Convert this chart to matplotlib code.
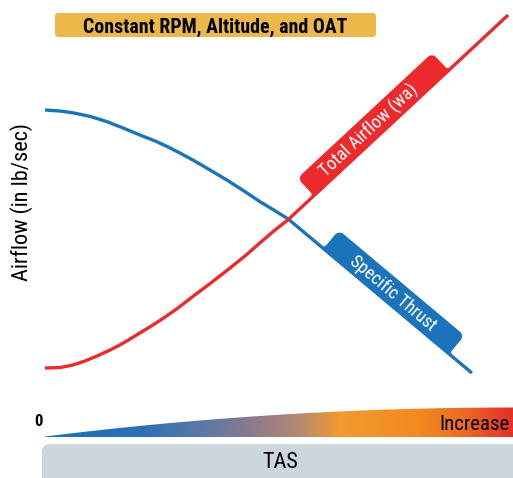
import numpy as np
import matplotlib
matplotlib.use("Agg")
import matplotlib.pyplot as plt
from matplotlib import font_manager
from matplotlib.font_manager import FontProperties
from matplotlib.patches import FancyBboxPatch, Polygon
from matplotlib.colors import LinearSegmentedColormap
from matplotlib.transforms import Affine2D, IdentityTransform

# data (TAS 0-100 across the plot, airflow in arbitrary units)
tas_total = [0, 3.2, 6.0, 8.6, 11.2, 14.0, 16.1, 18.3, 20.4, 23.0, 25.4, 28.6, 31.8,
             35.5, 39.8, 43.0, 46.2, 49.2, 52.3, 99.6]
total_airflow = [8.0, 8.1, 8.75, 9.75, 11.0, 12.5, 13.75, 15.25, 16.75, 18.6, 20.4, 23.0,
                 25.9, 29.1, 33.0, 36.0, 39.25, 42.25, 45.1, 96.25]
tas_thrust = [0, 3.2, 6.0, 9.7, 13.3, 16.8, 20.4, 23.7, 26.5, 29.0, 31.8, 35.5, 39.1,
              42.8, 46.2, 49.2, 52.3, 91.8]
specific_thrust = [72.5, 72.25, 71.8, 70.9, 69.6, 68.0, 66.25, 64.75, 63.25, 61.75, 60.0,
                   57.5, 55.0, 52.25, 49.6, 47.5, 45.25, 6.75]

title = "Constant RPM, Altitude, and OAT"
ylabel = "Airflow (in lb/sec)"
xlabel = "TAS"

RED = "#ec2a2c"
BLUE = "#1b74bb"


# look for a condensed sans font, fall back to DejaVu Sans
def find_font(bold):
    pref = ["roboto", "liberation", "open", "noto", "dejavu", "lato", "inter"]
    best = None
    for f in font_manager.fontManager.ttflist:
        fn = f.fname.lower()
        cond = ("condensed" in fn or "narrow" in fn or "condensed" in str(f.stretch)
                or "Condensed" in f.name or "Narrow" in f.name)
        if not cond or "semi" in fn or "extra" in fn or "ultra" in fn:
            continue
        if "italic" in fn or "oblique" in fn or "serif" in fn or "mono" in fn:
            continue
        if f.style != "normal":
            continue
        w = f.weight if isinstance(f.weight, (int, float)) else (700 if "bold" in str(f.weight) else 400)
        if abs(w - (700 if bold else 400)) > 100:
            continue
        rank = next((i for i, p in enumerate(pref) if p in fn), 99)
        if best is None or rank < best[0]:
            best = (rank, f.fname)
    if best is None:
        return FontProperties(family="DejaVu Sans", weight="bold" if bold else "normal")
    return FontProperties(fname=best[1])


REG = find_font(False)
BOLD = find_font(True)

fig = plt.figure(figsize=(5.13, 4.78), dpi=100)

# background axes in pixel coordinates for the decorations
bg = fig.add_axes([0, 0, 1, 1])
bg.axis("off")

ax = fig.add_axes([45 / 513, 78 / 478, 465 / 513, 400 / 478])
ax.set_xlim(0, 100)
ax.set_ylim(0, 100)
ax.axis("off")

ax.plot(tas_total, total_airflow, color=RED, lw=2.4, solid_capstyle="butt",
        solid_joinstyle="round", zorder=3)
ax.plot(tas_thrust, specific_thrust, color=BLUE, lw=2.4, solid_capstyle="butt",
        solid_joinstyle="round", zorder=2)


def arc(cx, cy, r, a0, a1):
    t = np.radians(np.linspace(a0, a1, 12))
    return np.column_stack([cx + r * np.cos(t), cy + r * np.sin(t)])


def ribbon(xs, ys, u0, u1, w, ut, text, color):
    # tab sitting on the last straight segment of a line, in pixel units
    p0 = ax.transData.transform((xs[-2], ys[-2]))
    p1 = ax.transData.transform((xs[-1], ys[-1]))
    ang = np.degrees(np.arctan2(p1[1] - p0[1], p1[0] - p0[0]))
    tr = Affine2D().rotate_deg(ang).translate(p0[0], p0[1])
    r, R = 5, 6
    pts = np.vstack([
        arc(u0 - r, r, r, -90, 0),
        arc(u0 + R, w - R, R, 180, 90),
        arc(u1 - R, w - R, R, 90, 0),
        arc(u1 + r, r, r, 180, 270),
        [[u1 + r, -1], [u0 - r, -1]],
    ])
    ax.add_patch(Polygon(pts, closed=True, transform=tr, fc=color, ec="none",
                         clip_on=False, zorder=4))
    c = tr.transform((ut, w / 2))
    ax.text(c[0], c[1], text, transform=IdentityTransform(), rotation=ang,
            rotation_mode="anchor", ha="center", va="center_baseline", color="white",
            fontproperties=REG, fontsize=13, zorder=5)


ribbon(tas_total, total_airflow, 35, 219, 24, 120, "Total Airflow (wa)", RED)
ribbon(tas_thrust, specific_thrust, 46, 210, 24, 128, "Specific Thrust", BLUE)

bg.set_xlim(0, 513)
bg.set_ylim(478, 0)

# title box
bg.add_patch(FancyBboxPatch((55, 13), 321, 24, boxstyle="round,pad=0,rounding_size=3",
                            fc="#ecb84a", ec="none"))
bg.text(215, 25.5, title, ha="center", va="center_baseline", fontproperties=BOLD, fontsize=14.3)

bg.text(22, 202, ylabel, rotation=90, ha="center", va="center", fontproperties=REG, fontsize=16)

# TAS gradient wedge
xs = np.linspace(45, 513, 200)
s = (xs - 45) / 468
top = 436.5 - 29 * (1 - (1 - s) ** 2)
poly = Polygon(np.column_stack([np.r_[xs, xs[::-1]], np.r_[top, np.full_like(xs, 437.5)]]),
               closed=True, fc="none", ec="none")
bg.add_patch(poly)
cmap = LinearSegmentedColormap.from_list("tas", [
    (0.0, "#1b72ba"), (0.2, "#2a70b4"), (0.33, "#5a78a8"), (0.44, "#8a7a8c"),
    (0.545, "#b48a70"), (0.63, "#f39a30"), (0.8, "#f28a20"), (0.9, "#ea6a24"),
    (1.0, "#e3302a")])
im = bg.imshow(np.linspace(0, 1, 256)[None, :], extent=(45, 513, 437.5, 405),
               aspect="auto", cmap=cmap, zorder=1)
im.set_clip_path(poly)
bg.set_xlim(0, 513)
bg.set_ylim(478, 0)

bg.text(38, 421, "0", ha="center", va="center", fontproperties=BOLD, fontsize=12)
bg.text(510, 424, "Increase", ha="right", va="center", fontproperties=REG, fontsize=15, zorder=3)

bg.add_patch(FancyBboxPatch((42, 444), 490, 60, boxstyle="round,pad=0,rounding_size=8",
                            fc="#ccd6dc", ec="none"))
bg.text(280, 463, xlabel, ha="center", va="center", fontproperties=REG, fontsize=16)

fig.savefig("out.png", dpi=100)
